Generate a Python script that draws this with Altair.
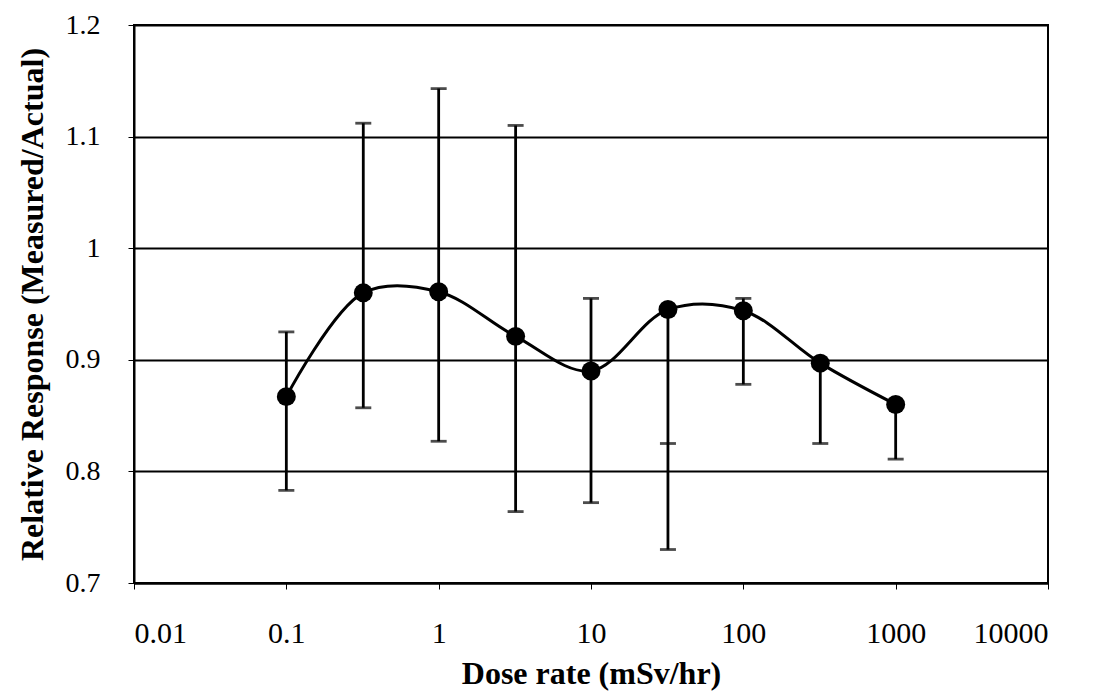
import altair as alt
import pandas as pd

# Data
dose = [0.1, 0.32, 1, 3.2, 10, 32, 100, 320, 1000]
resp = [0.867, 0.960, 0.961, 0.921, 0.890, 0.945, 0.944, 0.897, 0.860]
err_hi = [0.925, 1.112, 1.143, 1.110, 0.955, 0.945, 0.955, 0.897, 0.860]
err_lo = [0.783, 0.857, 0.827, 0.764, 0.772, 0.730, 0.878, 0.825, 0.811]
extra_cap_dose = [32]
extra_cap_val = [0.825]

x_ticks = [0.01, 0.1, 1, 10, 100, 1000, 10000]
y_ticks = [0.7, 0.8, 0.9, 1.0, 1.1, 1.2]

df = pd.DataFrame({"dose": dose, "resp": resp, "hi": err_hi, "lo": err_lo})
caps = pd.DataFrame({"dose": dose * 2, "v": err_hi + err_lo})
caps = pd.concat([caps, pd.DataFrame({"dose": extra_cap_dose, "v": extra_cap_val})])

FONT = "Liberation Serif"

xscale = alt.Scale(type="log", domain=[0.01, 10000], nice=False)
yscale = alt.Scale(domain=[0.7, 1.2], nice=False, zero=False)

xaxis = alt.Axis(values=x_ticks, format="~g", grid=False, labelPadding=29,
                 labelFontSize=30, title="Dose rate (mSv/hr)", titlePadding=10)
yaxis = alt.Axis(values=y_ticks, format="~g", grid=True, gridColor="black",
                 gridWidth=2, gridOpacity=1, labelPadding=28, labelFontSize=28,
                 title="Relative Response (Measured/Actual)", titlePadding=16)

xenc = alt.X("dose:Q", scale=xscale, axis=xaxis)

base = alt.Chart(df)

bars = base.mark_rule(color="black", strokeWidth=2.8).encode(
    x=xenc,
    y=alt.Y("lo:Q", scale=yscale, axis=yaxis),
    y2="hi:Q",
)

capmarks = alt.Chart(caps).mark_tick(color="black", orient="horizontal",
                                     size=16, thickness=2.8).encode(
    x=xenc,
    y=alt.Y("v:Q", scale=yscale, axis=yaxis),
)

line = base.mark_line(color="black", strokeWidth=3,
                      interpolate="catmull-rom").encode(
    x=xenc, y=alt.Y("resp:Q", scale=yscale, axis=yaxis))

points = base.mark_circle(color="black", opacity=1, size=360).encode(
    x=xenc,
    y=alt.Y("resp:Q", scale=yscale, axis=yaxis),
)

chart = alt.layer(line, bars, capmarks, points).properties(
    width=914, height=558,
    autosize=alt.AutoSizeParams(type="none"),
    padding={"left": 134, "top": 25, "right": 48, "bottom": 113},
    background="white",
).configure_view(stroke="black", strokeWidth=2).configure_axis(
    labelFont=FONT, labelColor="black",
    titleFont=FONT, titleFontSize=32, titleFontWeight="bold", titleColor="black",
    tickSize=6, tickColor="black", domainColor="black", domainWidth=2,
)

chart.save("out.html", embed_options={"renderer": "svg", "actions": False})
